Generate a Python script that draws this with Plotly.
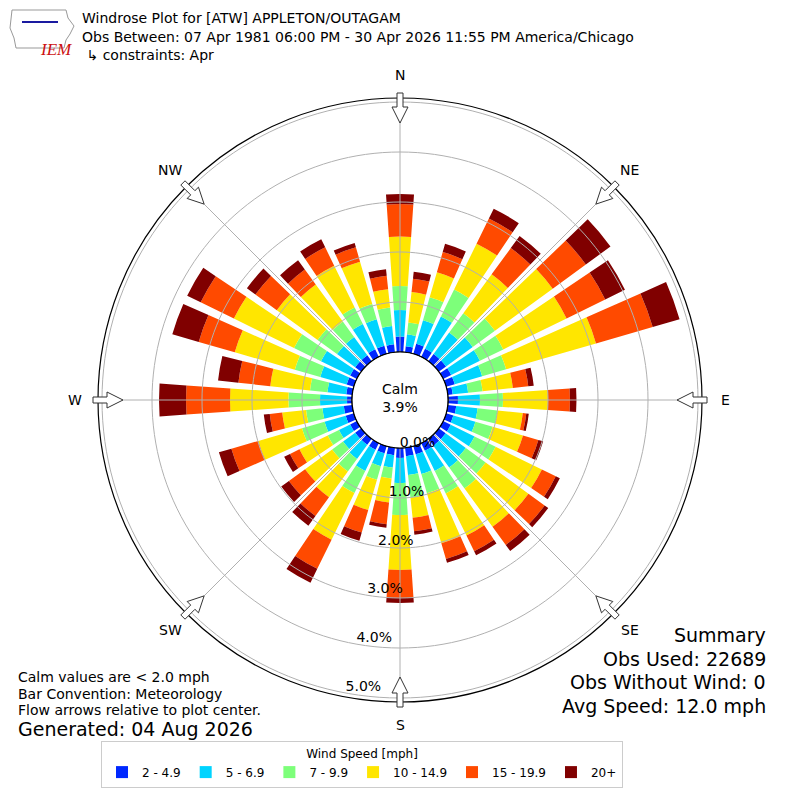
import math

import plotly.graph_objects as go

# wind direction bins (degrees, meteorological "from")
directions = list(range(0, 360, 10))

speed_labels = ["2 - 4.9", "5 - 6.9", "7 - 9.9", "10 - 14.9", "15 - 19.9", "20+"]
speed_colors = ["#0028ff", "#00d4ff", "#7dff7a", "#ffe600", "#ff4a00", "#800000"]

# frequency [%] per direction for each speed bin
spd_2_5 = [0.31, 0.12, 0.21, 0.18, 0.18, 0.18, 0.18, 0.18, 0.10, 0.20, 0.17, 0.15,
           0.17, 0.17, 0.17, 0.17, 0.17, 0.17, 0.20, 0.15, 0.15, 0.15, 0.15, 0.15,
           0.15, 0.17, 0.17, 0.10, 0.12, 0.15, 0.15, 0.15, 0.15, 0.17, 0.17, 0.16]
spd_5_7 = [0.53, 0.24, 0.49, 0.72, 0.53, 0.66, 0.64, 0.57, 0.31, 0.44, 0.43, 0.46,
           0.53, 0.50, 0.54, 0.45, 0.41, 0.38, 0.50, 0.25, 0.27, 0.47, 0.35, 0.30,
           0.25, 0.44, 0.43, 0.54, 0.38, 0.55, 0.65, 0.45, 0.45, 0.56, 0.55, 0.37]
spd_7_10 = [0.48, 0.24, 0.48, 0.60, 0.48, 0.55, 0.52, 0.50, 0.29, 0.46, 0.40, 0.36,
            0.47, 0.49, 0.52, 0.50, 0.40, 0.45, 0.64, 0.22, 0.28, 0.49, 0.31, 0.27,
            0.25, 0.47, 0.33, 0.63, 0.35, 0.53, 0.60, 0.48, 0.38, 0.37, 0.32, 0.37]
spd_10_15 = [0.99, 0.61, 0.52, 1.02, 0.96, 1.43, 1.41, 1.87, 0.61, 0.90, 0.51, 0.63,
             1.03, 1.06, 0.95, 0.94, 1.04, 0.41, 1.10, 0.48, 0.63, 1.04, 0.64, 0.67,
             0.63, 0.91, 0.48, 1.17, 0.80, 1.25, 1.34, 1.01, 0.92, 0.93, 0.88, 0.37]
spd_15_20 = [0.65, 0.27, 0.42, 0.56, 0.65, 0.82, 0.86, 1.18, 0.31, 0.44, 0.07, 0.32,
             0.31, 0.40, 0.45, 0.35, 0.33, 0.27, 0.56, 0.44, 0.47, 0.65, 0.46, 0.40,
             0.21, 0.56, 0.25, 0.88, 0.64, 0.75, 0.74, 0.53, 0.37, 0.41, 0.30, 0.27]
spd_20_up = [0.20, 0.14, 0.17, 0.22, 0.30, 0.61, 0.44, 0.56, 0.11, 0.13, 0.05, 0.10,
             0.09, 0.09, 0.15, 0.09, 0.08, 0.07, 0.10, 0.07, 0.17, 0.31, 0.24, 0.19,
             0.13, 0.26, 0.12, 0.54, 0.41, 0.55, 0.30, 0.21, 0.23, 0.18, 0.09, 0.13]
speed_values = [spd_2_5, spd_5_7, spd_7_10, spd_10_15, spd_15_20, spd_20_up]

calm_pct = 3.9
radial_ticks = [0, 1, 2, 3, 4, 5]
compass = ["N", "NE", "E", "SE", "S", "SW", "W", "NW"]
compass_deg = [0, 45, 90, 135, 180, 225, 270, 315]

title_lines = [
    "Windrose Plot for [ATW] APPLETON/OUTAGAM",
    "Obs Between: 07 Apr 1981 06:00 PM - 30 Apr 2026 11:55 PM America/Chicago",
    " \u21b3 constraints: Apr",
]
notes = ["Calm values are < 2.0 mph", "Bar Convention: Meteorology",
         "Flow arrows relative to plot center."]
generated = "Generated: 04 Aug 2026"
summary = ["Summary", "Obs Used: 22689", "Obs Without Wind: 0", "Avg Speed: 12.0 mph"]

W = H = 800
CX = CY = 400
R_OUT = 302
R_MAX = 5.08
RLABEL_ANGLE = 257.5
FONT = "DejaVu Sans"


def px(x, y):
    return x / W, 1 - y / H


fig = go.Figure()

for lab, col, vals in zip(speed_labels, speed_colors, speed_values):
    fig.add_trace(go.Barpolar(
        r=vals, theta=directions, name=lab, width=7.8,
        marker=dict(color=col, line=dict(width=0)),
    ))

# grid drawn over the bars (like matplotlib)
circ = list(range(0, 361, 2))
for t in radial_ticks[1:]:
    fig.add_trace(go.Scatterpolar(r=[t] * len(circ), theta=circ, mode="lines",
                                  line=dict(color="#b0b0b0", width=1),
                                  showlegend=False, hoverinfo="skip"))
for d in compass_deg:
    fig.add_trace(go.Scatterpolar(r=[0, R_MAX], theta=[d, d], mode="lines",
                                  line=dict(color="#b0b0b0", width=1),
                                  showlegend=False, hoverinfo="skip"))
fig.add_trace(go.Scatterpolar(r=[0] * len(circ), theta=circ, mode="lines",
                              line=dict(color="black", width=1.2),
                              showlegend=False, hoverinfo="skip"))

fig.update_layout(
    width=W, height=H, margin=dict(l=0, r=0, t=0, b=0),
    paper_bgcolor="white", font=dict(family=FONT, color="black"),
    polar=dict(
        domain=dict(x=[(CX - R_OUT) / W, (CX + R_OUT) / W],
                    y=[(CY - R_OUT) / H, (CY + R_OUT) / H]),
        hole=48 / R_OUT, bgcolor="white", barmode="stack",
        radialaxis=dict(range=[0, R_MAX], tickvals=radial_ticks,
                        ticktext=["%.1f%%<br> " % t for t in radial_ticks],
                        showgrid=False, showline=False, ticks="",
                        angle=RLABEL_ANGLE, side="counterclockwise",
                        tickangle=RLABEL_ANGLE - 360,
                        tickfont=dict(size=14, color="black")),
        angularaxis=dict(rotation=90, direction="clockwise", showgrid=False,
                         showticklabels=False, ticks="", showline=True,
                         linecolor="black", linewidth=1.2),
    ),
    legend=dict(orientation="h", x=362 / W, xanchor="center", y=1 - 741 / H, yanchor="top",
                bgcolor="white", bordercolor="#cccccc", borderwidth=1,
                font=dict(size=12), itemwidth=30,
                title=dict(text="Wind Speed [mph]", side="top center", font=dict(size=12))),
)

# direction arrows (hollow, pointing to center) and compass labels
shapes = []
arrow = [(307, -3), (293, -3), (293, -8), (277, 0), (293, 8), (293, 3), (307, 3)]
for name, d in zip(compass, compass_deg):
    a = math.radians(d)
    ux, uy = math.sin(a), -math.cos(a)
    vx, vy = math.cos(a), math.sin(a)
    pts = [px(CX + r * ux + w * vx, CY + r * uy + w * vy) for r, w in arrow]
    path = "M " + " L ".join("%.5f,%.5f" % p for p in pts) + " Z"
    shapes.append(dict(type="path", xref="paper", yref="paper", path=path,
                       fillcolor="white", line=dict(color="#333333", width=1)))
    lx, ly = px(CX + 325 * ux, CY + 325 * uy)
    fig.add_annotation(x=lx, y=ly, xref="paper", yref="paper", text=name, showarrow=False,
                       font=dict(size=14), xanchor="center", yanchor="middle")

# rough IEM logo
iowa = [(12, 10), (66, 10), (68, 18), (74, 26), (70, 34), (66, 40), (64, 48), (16, 48), (14, 38), (10, 28)]
shapes.append(dict(type="path", xref="paper", yref="paper",
                   path="M " + " L ".join("%.5f,%.5f" % px(x, y) for x, y in iowa) + " Z",
                   line=dict(color="#999999", width=1)))
shapes.append(dict(type="line", xref="paper", yref="paper",
                   x0=px(22, 22)[0], y0=px(22, 22)[1], x1=px(58, 22)[0], y1=px(58, 22)[1],
                   line=dict(color="#1a1aa0", width=2)))
fig.add_annotation(x=px(38, 38)[0], y=px(38, 38)[1], xref="paper", yref="paper", text="<i>IEM</i>",
                   showarrow=False, font=dict(size=17, color="#cc1111", family="Liberation Serif"))
fig.update_layout(shapes=shapes)

# calm in the middle
fig.add_annotation(x=0.5, y=px(0, 398)[1], xref="paper", yref="paper",
                   text="Calm<br>%.1f%%" % calm_pct, showarrow=False,
                   font=dict(size=14), align="center")

for i, line in enumerate(title_lines):
    fig.add_annotation(x=px(80, 0)[0], y=px(0, 18 + i * 18.5)[1], xref="paper", yref="paper",
                       text=line, showarrow=False, xanchor="left", yanchor="middle",
                       font=dict(size=14))

for i, line in enumerate(notes):
    fig.add_annotation(x=px(16, 0)[0], y=px(0, 677 + i * 16.5)[1], xref="paper", yref="paper",
                       text=line, showarrow=False, xanchor="left", yanchor="middle",
                       font=dict(size=14))
fig.add_annotation(x=px(16, 0)[0], y=px(0, 729)[1], xref="paper", yref="paper",
                   text=generated, showarrow=False, xanchor="left", yanchor="middle",
                   font=dict(size=19))

for i, line in enumerate(summary):
    fig.add_annotation(x=px(768, 0)[0], y=px(0, 635 + i * 23.5)[1], xref="paper", yref="paper",
                       text=line, showarrow=False, xanchor="right", yanchor="middle",
                       font=dict(size=19))

fig.write_html("out.html", config={"displayModeBar": False},
               post_script="document.body.style.margin='0px';")
